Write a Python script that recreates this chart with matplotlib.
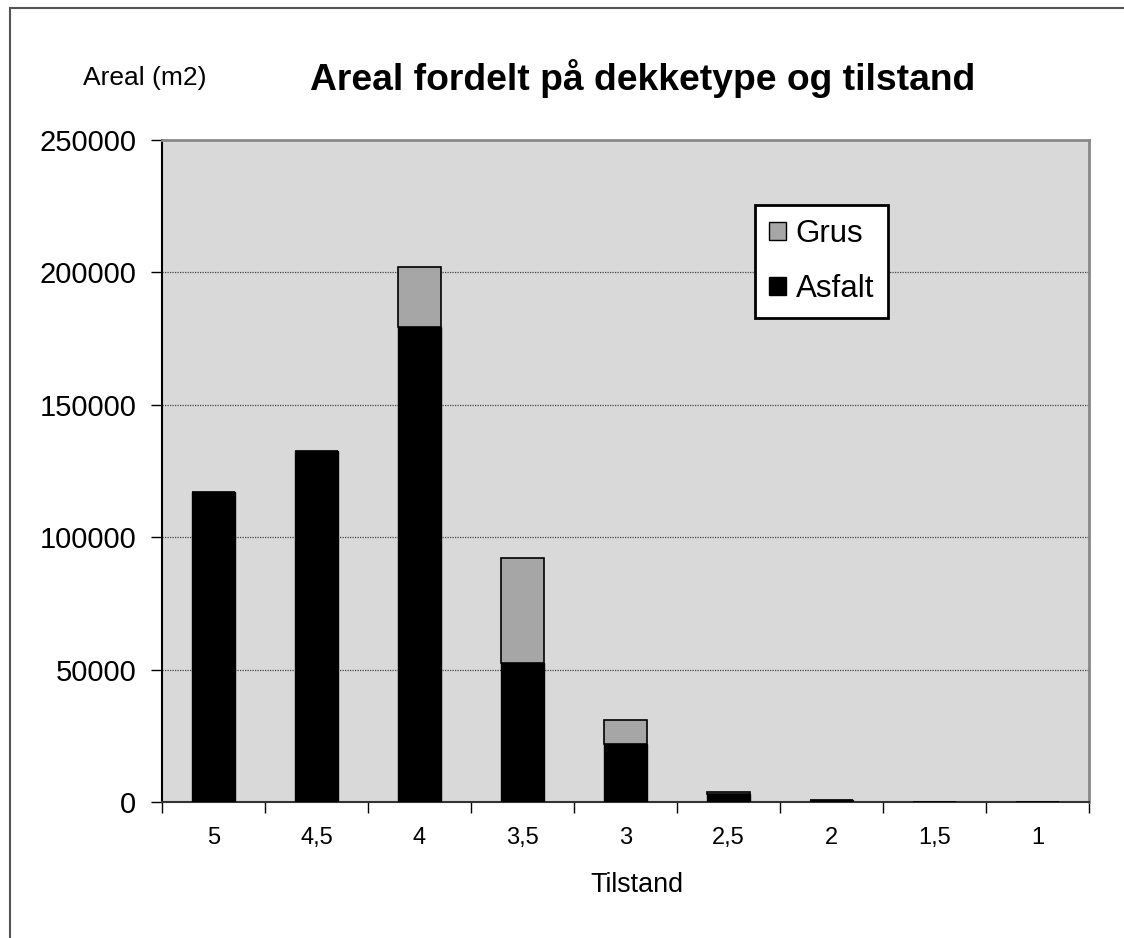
import numpy as np
import matplotlib.pyplot as plt
from matplotlib.patches import Rectangle, Patch

plt.rcParams['font.family'] = ['Liberation Sans', 'DejaVu Sans']

# Data
tilstand = ['5', '4,5', '4', '3,5', '3', '2,5', '2', '1,5', '1']
asfalt = [117000, 132500, 179500, 52500, 22000, 3200, 700, 0, 0]
grus = [0, 0, 22500, 39500, 9000, 600, 0, 0, 0]

fig = plt.figure(figsize=(11.24, 9.38), dpi=100)
ax = fig.add_axes([162/1124, 1 - 802/938, 927/1124, 662/938])

# ramme rundt hele figuren
fig.patches.append(Rectangle((10/1124, -0.1), 1.2, 1 - 8/938 + 0.1,
                             transform=fig.transFigure, fill=False,
                             edgecolor='#555555', linewidth=1.5))

x = np.arange(len(tilstand))
w = 0.42
ax.bar(x, asfalt, width=w, color='black', edgecolor='black', linewidth=1,
       zorder=3)
ax.bar(x, grus, width=w, bottom=asfalt, color='#a6a6a6', edgecolor='black',
       linewidth=1.2, zorder=3)

ax.set_facecolor('#d9d9d9')
ax.set_xlim(-0.5, len(tilstand) - 0.5)
ax.set_ylim(0, 250000)
ax.set_yticks(np.arange(0, 250001, 50000))
ax.tick_params(axis='y', labelsize=21, length=8, width=1, direction='out',
               pad=10.5)
ax.set_xticks(x)
ax.set_xticklabels(tilstand, fontsize=17)
ax.set_xticks(np.arange(-0.5, len(tilstand)), minor=True)
ax.tick_params(axis='x', which='major', length=0, pad=18)
ax.tick_params(axis='x', which='minor', length=8, width=1, direction='out')

for yv in [50000, 100000, 150000, 200000]:
    ax.axhline(yv, color='#444444', linestyle=(0, (1, 1)), linewidth=0.9,
               zorder=1)

for s in ['top', 'right']:
    ax.spines[s].set_color('#888888')
    ax.spines[s].set_linewidth(2)
ax.spines['left'].set_color('black')
ax.spines['left'].set_linewidth(1.5)
ax.spines['bottom'].set_color('#333333')
ax.spines['bottom'].set_linewidth(1.5)

fig.text(643/1124, 1 - 78/938, 'Areal fordelt på dekketype og tilstand',
         ha='center', va='center', fontsize=26.8, fontweight='bold')
fig.text(83/1124, 1 - 78/938, 'Areal (m2)', ha='left', va='center',
         fontsize=19)
fig.text(637/1124, 1 - 885/938, 'Tilstand', ha='center', va='center',
         fontsize=19.4)

handles = [Patch(facecolor='#a6a6a6', edgecolor='black', label='Grus'),
           Patch(facecolor='black', edgecolor='black', label='Asfalt')]
leg = ax.legend(handles=handles, loc='upper left',
                bbox_to_anchor=((755 - 162) / 927, 1 - (205 - 140) / 662),
                fontsize=22.5, frameon=True, fancybox=False,
                handlelength=0.55, handleheight=0.55, handletextpad=0.3,
                labelspacing=0.8, borderpad=0.45, borderaxespad=0)
leg.get_frame().set_edgecolor('black')
leg.get_frame().set_linewidth(2)
leg.get_frame().set_facecolor('white')
leg.get_frame().set_alpha(1)

fig.savefig('out.png', dpi=100)
